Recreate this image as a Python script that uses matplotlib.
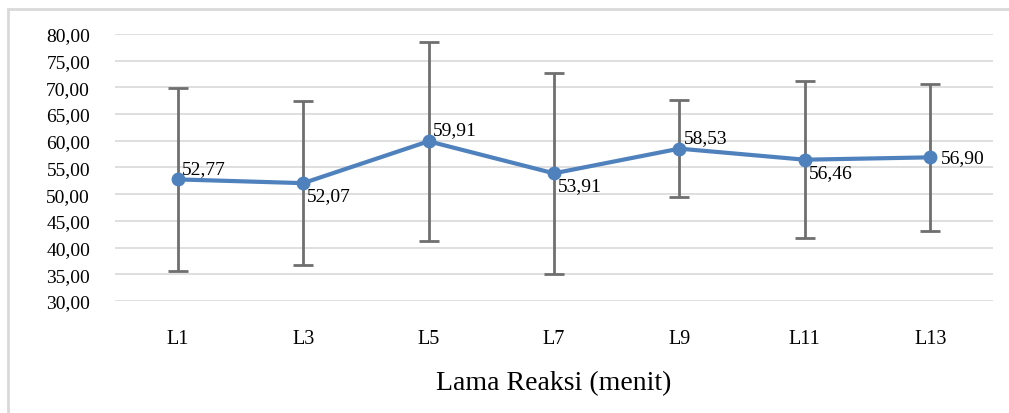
import matplotlib
matplotlib.use("Agg")
import matplotlib.pyplot as plt
from matplotlib.ticker import FuncFormatter, MultipleLocator
from matplotlib.patches import Rectangle

# data
labels = ["L1", "L3", "L5", "L7", "L9", "L11", "L13"]
means = [52.77, 52.07, 59.91, 53.91, 58.53, 56.46, 56.90]
errs = [17.2, 15.3, 18.6, 18.8, 9.1, 14.7, 13.7]
# where each value label sits: above-right, below-right, right
label_pos = ["up", "down", "up", "down", "up", "down", "right"]

plt.rcParams["font.family"] = ["Liberation Serif", "DejaVu Serif"]

fig = plt.figure(figsize=(10.09, 4.14), dpi=100)
ax = fig.add_axes([0.114, 0.2705, 0.870, 0.645])

# outer chart border
fig.patches.append(Rectangle((0.008, -0.1), 1.1, 0.1 + 0.976, transform=fig.transFigure,
                             fill=False, edgecolor="#d9d9d9", linewidth=2))

x = list(range(len(labels)))
ax.errorbar(x, means, yerr=errs, fmt="none", ecolor="#6f6f6f", elinewidth=2,
            capsize=7, capthick=2, zorder=2)
ax.plot(x, means, color="#4f81bd", linewidth=3, marker="o", markersize=9, zorder=3)

for i, (v, p) in enumerate(zip(means, label_pos)):
    txt = f"{v:.2f}".replace(".", ",")
    if p == "up":
        ax.annotate(txt, (i, v), xytext=(3, 2), textcoords="offset points",
                    ha="left", va="bottom", fontsize=14)
    elif p == "down":
        ax.annotate(txt, (i, v), xytext=(3, -3), textcoords="offset points",
                    ha="left", va="top", fontsize=14)
    else:
        ax.annotate(txt, (i, v), xytext=(8, 0), textcoords="offset points",
                    ha="left", va="center", fontsize=14)

ax.set_xlim(-0.5, len(labels) - 0.5)
ax.set_ylim(30, 80)
ax.yaxis.set_major_locator(MultipleLocator(5))
ax.yaxis.set_major_formatter(FuncFormatter(lambda v, _: f"{v:.2f}".replace(".", ",")))
ax.set_xticks(x)
ax.set_xticklabels(labels)
ax.grid(axis="y", color="#d9d9d9", linewidth=1.2)
ax.set_axisbelow(True)
for s in ax.spines.values():
    s.set_visible(False)
ax.tick_params(axis="y", length=0, labelsize=14, pad=18)
ax.tick_params(axis="x", length=0, labelsize=14.5, pad=20)
ax.set_xlabel("Lama Reaksi (menit)", fontsize=20, labelpad=16)

plt.savefig("out.png", dpi=100)
